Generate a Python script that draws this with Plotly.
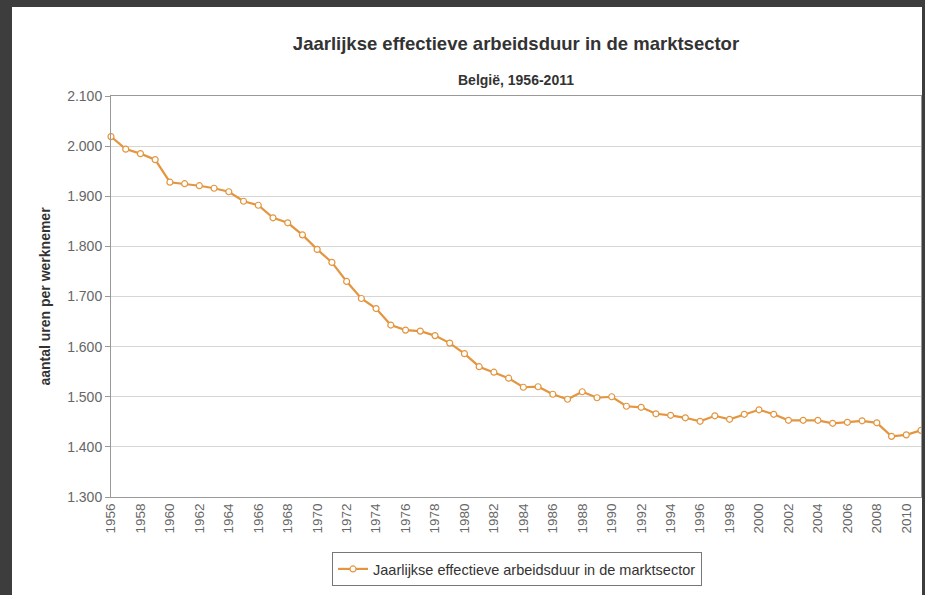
import plotly.graph_objects as go

years = list(range(1956, 2012))
hours = [
    2019, 1994, 1985, 1973, 1928, 1925, 1921, 1916, 1909, 1890,
    1882, 1857, 1847, 1823, 1794, 1768, 1730, 1696, 1676, 1643,
    1633, 1631, 1622, 1607, 1586, 1560, 1549, 1537, 1519, 1520,
    1505, 1495, 1510, 1498, 1500, 1481, 1479, 1466, 1463, 1458,
    1451, 1462, 1455, 1465, 1474, 1465, 1453, 1453, 1453, 1447,
    1449, 1452, 1448, 1421, 1424, 1433,
]
series_name = 'Jaarlijkse effectieve arbeidsduur in de marktsector'
x_ticks = list(range(1956, 2011, 2))
y_ticks = [1300, 1400, 1500, 1600, 1700, 1800, 1900, 2000, 2100]

W, H = 925, 595
ML, MR, MT, MB = 111, 4, 96, 98
pw = W - ML - MR
ph = H - MT - MB
orange = '#E3953F'
frame = '#3d3d3d'


def px_x(p):
    return (p - ML) / pw


def px_y(p):
    return (H - MB - p) / ph


fig = go.Figure()
fig.add_trace(go.Scatter(
    x=years, y=hours, name=series_name, mode='lines+markers',
    line=dict(color=orange, width=2.2),
    marker=dict(symbol='circle', size=6, color='white',
                line=dict(color=orange, width=1.2)),
    cliponaxis=False,
))

# dark frame around the screenshot
shapes = [
    dict(type='rect', xref='paper', yref='paper', x0=px_x(0), x1=px_x(12),
         y0=px_y(H), y1=px_y(0), fillcolor=frame, line_width=0, layer='above'),
    dict(type='rect', xref='paper', yref='paper', x0=px_x(0), x1=px_x(W),
         y0=px_y(7), y1=px_y(0), fillcolor=frame, line_width=0, layer='above'),
    dict(type='rect', xref='paper', yref='paper', x0=px_x(922), x1=px_x(W),
         y0=px_y(H), y1=px_y(0), fillcolor=frame, line_width=0, layer='above'),
]

fig.update_layout(
    width=W, height=H,
    margin=dict(l=ML, r=MR, t=MT, b=MB),
    paper_bgcolor='white', plot_bgcolor='white',
    separators=',.',
    font=dict(family='Liberation Sans, Arial, sans-serif', color='#555'),
    title=dict(text='<b>Jaarlijkse effectieve arbeidsduur in de marktsector</b>',
               x=516 / W, xanchor='center', y=1 - 44 / H, yanchor='middle',
               font=dict(size=18.5, color='#333')),
    annotations=[dict(text='<b>België, 1956-2011</b>', xref='paper', yref='paper',
                      x=px_x(516), y=px_y(70), showarrow=False,
                      font=dict(size=14, color='#333'))],
    shapes=shapes,
    showlegend=True,
    legend=dict(orientation='h', x=px_x(517), xanchor='center', y=px_y(552), yanchor='top',
                bordercolor='#777', borderwidth=1, itemwidth=30,
                font=dict(size=14.5, color='#333')),
    xaxis=dict(range=[1956, 2011], tickvals=x_ticks, tickangle=-90,
               showgrid=False, showline=True, linecolor='#999', linewidth=1, mirror=True,
               ticks='', tickfont=dict(size=13.5, color='#666'), zeroline=False),
    yaxis=dict(range=[1300, 2100], tickvals=y_ticks, tickformat=',d',
               showgrid=True, gridcolor='#d6d6d6', gridwidth=1,
               showline=True, linecolor='#999', linewidth=1, mirror=True,
               ticks='outside', ticklen=5, tickcolor='#999',
               tickfont=dict(size=14, color='#666'), zeroline=False,
               title=dict(text='<b>aantal uren per werknemer</b>', standoff=13,
                          font=dict(size=14, color='#333'))),
)

fig.write_html('out.html', config={'displayModeBar': False},
               post_script="document.body.style.margin='0';")
